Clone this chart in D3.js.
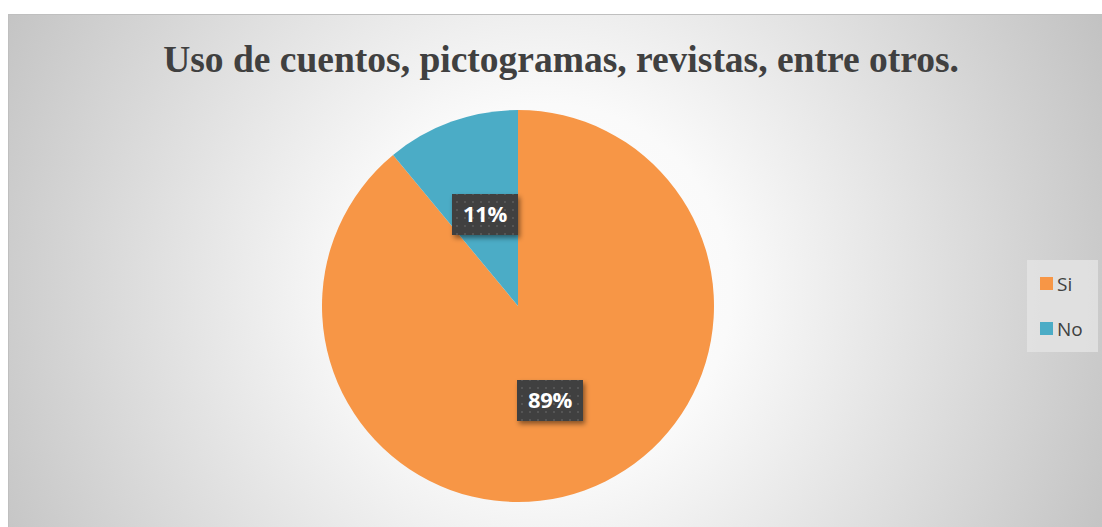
<!DOCTYPE html>
<html>
<head>
<meta charset="utf-8">
<script src="https://cdn.jsdelivr.net/npm/d3@7"></script>
<style>
  body { margin: 0; background: #fff; }
  svg { display: block; }
</style>
</head>
<body>
<div id="chart"></div>
<script>
// chart data
const categories = ["Si", "No"];
const values = [89, 11];
const colors = ["#F79646", "#4BACC6"];
const title = "Uso de cuentos, pictogramas, revistas, entre otros.";

const width = 1102, height = 527;
const svg = d3.select("#chart").append("svg")
    .attr("width", width)
    .attr("height", height);

const defs = svg.append("defs");

// background radial gradient, white in the middle, grey at the edges
const grad = defs.append("radialGradient")
    .attr("id", "bg")
    .attr("gradientUnits", "userSpaceOnUse")
    .attr("cx", 545).attr("cy", 290).attr("r", 620);
grad.append("stop").attr("offset", "0%").attr("stop-color", "#ffffff");
grad.append("stop").attr("offset", "30%").attr("stop-color", "#fafafa");
grad.append("stop").attr("offset", "100%").attr("stop-color", "#c2c2c2");

// dotted dark pattern for the data labels
const pat = defs.append("pattern")
    .attr("id", "dots")
    .attr("patternUnits", "userSpaceOnUse")
    .attr("width", 8).attr("height", 8);
pat.append("rect").attr("width", 8).attr("height", 8).attr("fill", "#3f3f3f");
pat.append("rect").attr("x", 3).attr("y", 3).attr("width", 2).attr("height", 2).attr("fill", "#555");

const shadow = defs.append("filter").attr("id", "shadow")
    .attr("x", "-20%").attr("y", "-20%").attr("width", "150%").attr("height", "160%");
shadow.append("feDropShadow")
    .attr("dx", 2).attr("dy", 3).attr("stdDeviation", 2.5)
    .attr("flood-color", "#000").attr("flood-opacity", 0.45);

// chart area
svg.append("rect")
    .attr("x", 8.5).attr("y", 14.5)
    .attr("width", width).attr("height", height)
    .attr("fill", "url(#bg)")
    .attr("stroke", "#bfbfbf");

svg.append("text")
    .attr("x", 561).attr("y", 72)
    .attr("text-anchor", "middle")
    .attr("font-family", "'Liberation Serif', 'Times New Roman', serif")
    .attr("font-weight", "bold")
    .attr("font-size", 37.5)
    .attr("fill", "#404040")
    .text(title);

// pie
const cx = 518, cy = 306, radius = 196;
const pie = d3.pie().sort(null).value(d => d);
const arc = d3.arc().innerRadius(0).outerRadius(radius);
const arcs = pie(values);

const g = svg.append("g").attr("transform", `translate(${cx},${cy})`);
g.selectAll("path")
    .data(arcs)
    .join("path")
    .attr("d", arc)
    .attr("fill", (d, i) => colors[i]);

// data labels (placed like excel's best-fit, roughly)
const labelPos = [[550, 400], [485, 214]];
const total = d3.sum(values);
const fmt = d => Math.round(d / total * 100) + "%";
const labels = svg.append("g").selectAll("g")
    .data(arcs)
    .join("g")
    .attr("transform", (d, i) => `translate(${labelPos[i][0]},${labelPos[i][1]})`);
labels.append("rect")
    .attr("x", -33).attr("y", -20)
    .attr("width", 66).attr("height", 41)
    .attr("fill", "url(#dots)")
    .attr("filter", "url(#shadow)");
labels.append("text")
    .attr("text-anchor", "middle")
    .attr("dy", "0.36em")
    .attr("font-family", "'Open Sans', Lato, sans-serif")
    .attr("font-weight", "bold")
    .attr("font-size", 22)
    .attr("letter-spacing", -0.3)
    .attr("fill", "#fff")
    .text(d => fmt(d.value));

// legend
const legend = svg.append("g");
legend.append("rect")
    .attr("x", 1027).attr("y", 260)
    .attr("width", 71).attr("height", 92)
    .attr("fill", "#e3e3e3")
    .attr("fill-opacity", 0.85);
const items = legend.selectAll("g.item")
    .data(categories)
    .join("g")
    .attr("class", "item")
    .attr("transform", (d, i) => `translate(1040,${277 + i * 45})`);
items.append("rect")
    .attr("width", 13).attr("height", 13)
    .attr("fill", (d, i) => colors[i]);
items.append("text")
    .attr("x", 17).attr("y", 7)
    .attr("dy", "0.36em")
    .attr("font-family", "'Open Sans', Lato, sans-serif")
    .attr("font-size", 19)
    .attr("fill", "#404040")
    .text(d => d);
</script>
</body>
</html>
